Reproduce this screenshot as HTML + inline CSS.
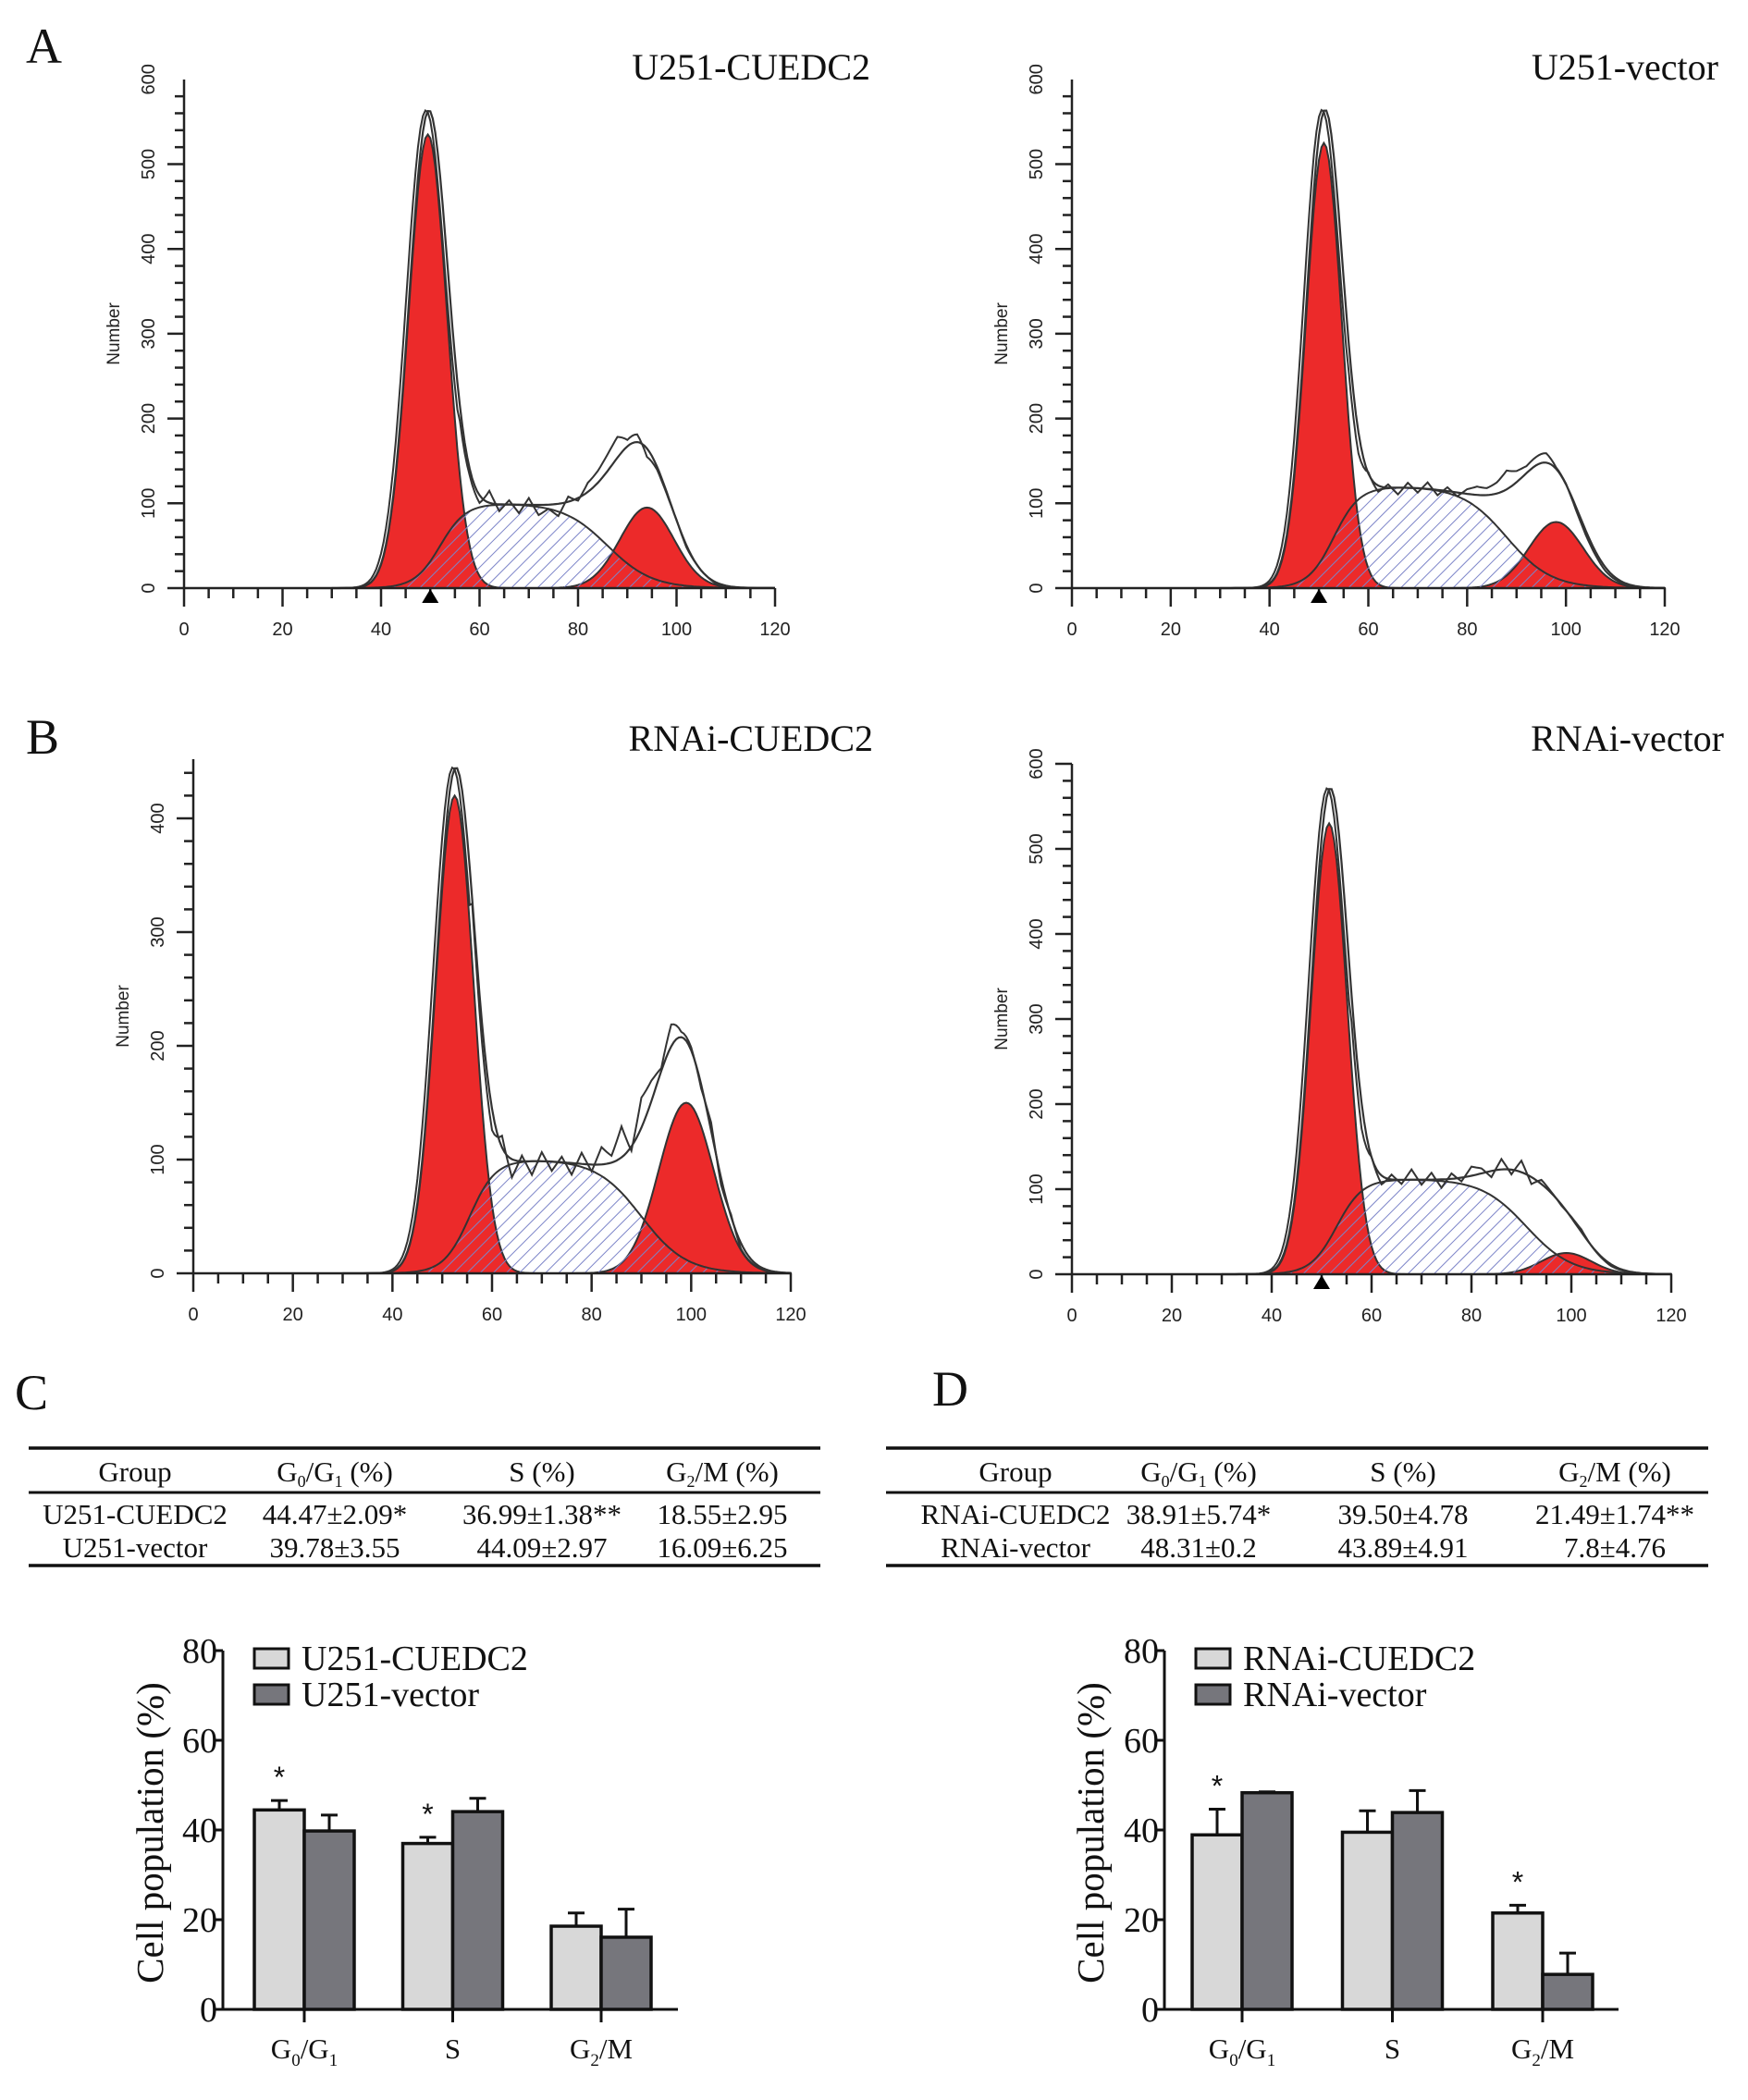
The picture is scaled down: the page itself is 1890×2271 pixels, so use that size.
<!DOCTYPE html>
<html>
<head>
<meta charset="utf-8">
<style>
html,body{margin:0;padding:0;background:#fff;}
svg{display:block;}
</style>
</head>
<body>
<svg id="fig" xmlns="http://www.w3.org/2000/svg" width="1890" height="2271" viewBox="0 0 1890 2271">
<defs>
<pattern id="hatch" patternUnits="userSpaceOnUse" width="10" height="10" patternTransform="rotate(45)">
<line x1="0" y1="0" x2="0" y2="10" stroke="#7c84c8" stroke-width="2"/>
</pattern>
</defs>
<g font-family="'Liberation Serif', serif" fill="#111">
<text x="28" y="68" font-size="54">A</text>
<text x="28" y="815" font-size="54">B</text>
<text x="16" y="1524" font-size="54">C</text>
<text x="1008" y="1520" font-size="54">D</text>
<text x="941" y="86" font-size="40" text-anchor="end">U251-CUEDC2</text>
<text x="1858" y="86" font-size="40" text-anchor="end">U251-vector</text>
<text x="944" y="812" font-size="40" text-anchor="end">RNAi-CUEDC2</text>
<text x="1864" y="812" font-size="40" text-anchor="end">RNAi-vector</text>
</g>
<g id="tables" font-family="'Liberation Serif', serif" font-size="31" fill="#111"></g>
<g id="hists"></g>
<g id="bars"></g>
</svg>
<script>
// ---------- Histogram data (per panel: A-left, A-right, B-left, B-right) ----------
const g1Mean   = [49.5, 51, 52.5, 51.5];
const g1Height = [535, 525, 420, 530];
const g1Sd     = [3.9, 3.6, 3.8, 3.6];
const sHeight  = [100, 120, 100, 112];
const sStart   = [52, 53, 55.5, 53];
const sEnd     = [86, 88, 90, 91];
const g2Mean   = [94, 98, 99, 99];
const g2Height = [95, 78, 150, 25];
const g2Sd     = [5.5, 5.5, 5.5, 5];
const aggMean  = [90, 94, 95, 92];
const aggHeight= [65, 60, 50, 55];
const rawNoiseA1 = [10,5,-5,15,-8,5,-10,8,-12,-5,-15,5,-5,8,10,15,20,5,10,-5,5,8,10,5,5,3,0,0,0];
const rawNoiseA2 = [5,-5,8,-6,4,-8,6,-5,8,-6,5,-4,6,10,8,12,20,10,5,8,12,6,8,5,3,2,0,0,0];
const rawNoiseB1 = [30,10,-5,15,-15,5,-12,8,-8,5,-10,10,-6,15,5,25,-8,20,10,-5,15,6,10,8,20,5,10,0,0];
const rawNoiseB2 = [12,-5,10,-8,6,-5,12,-6,8,-10,6,-5,10,5,-8,12,-5,15,-6,8,5,3,6,8,4,2,0,0,0];
const rawNoise = [rawNoiseA1, rawNoiseA2, rawNoiseB1, rawNoiseB2];
const markerShown = [true, true, false, true];
const yTickLabels = [[0,100,200,300,400,500,600],[0,100,200,300,400,500,600],[0,100,200,300,400],[0,100,200,300,400,500,600]];
const xTickLabels = [0,20,40,60,80,100,120];

// layout (not data)
const layout = [
 {x0:199,x1:838,y0:636,per100:91.7,top:86},
 {x0:1159,x1:1800,y0:636,per100:91.7,top:86},
 {x0:209,x1:855,y0:1377,per100:123,top:821},
 {x0:1159,x1:1807,y0:1378,per100:92,top:826}
];
const NS="http://www.w3.org/2000/svg";
function mk(tag, attrs, parent){const e=document.createElementNS(NS,tag);for(const k in attrs)e.setAttribute(k,attrs[k]);if(parent)parent.appendChild(e);return e;}
function gauss(x,m,h,s){return h*Math.exp(-(x-m)*(x-m)/(2*s*s));}
function plateau(x,h,a,b){return h/(1+Math.exp(-(x-a)/2.6))/(1+Math.exp((x-b)/4.5));}

const hists=document.getElementById('hists');
const panelNames=['histogram-u251-cuedc2','histogram-u251-vector','histogram-rnai-cuedc2','histogram-rnai-vector'];
for(let p=0;p<4;p++){
  const L=layout[p];
  const xs=v=>L.x0+v*(L.x1-L.x0)/120;
  const ys=v=>L.y0-v*L.per100/100;
  const g=mk('g',{},hists);
  
  
  const pts=[];
  for(let x=30;x<=120.001;x+=0.5)pts.push(x);
  const g1=x=>gauss(x,g1Mean[p],g1Height[p],g1Sd[p]);
  const g2=x=>gauss(x,g2Mean[p],g2Height[p],g2Sd[p]);
  const sp=x=>plateau(x,sHeight[p],sStart[p],sEnd[p]);
  const ag=x=>gauss(x,aggMean[p],aggHeight[p],7);
  const fit=x=>g1(x)+g2(x)+sp(x)+ag(x);
  const area=f=>{let d='M'+xs(30)+','+ys(0);pts.forEach(x=>{d+=' L'+xs(x).toFixed(1)+','+ys(f(x)).toFixed(1);});return d+' L'+xs(120)+','+ys(0)+'Z';};
  const line=f=>{let d='';pts.forEach((x,i)=>{d+=(i?' L':'M')+xs(x).toFixed(1)+','+ys(f(x)).toFixed(1);});return d;};
  const a1=mk('path',{d:area(g1),fill:'#ec2a2a',stroke:'#333','stroke-width':2},g);
  
  
  const a2=mk('path',{d:area(g2),fill:'#ec2a2a',stroke:'#333','stroke-width':2},g);
  
  
  const a3=mk('path',{d:area(sp),fill:'url(#hatch)',stroke:'#333','stroke-width':2},g);
  
  
  const f1=mk('path',{d:line(fit),fill:'none',stroke:'#333','stroke-width':2.2},g);
  
  
  const noise=rawNoise[p];
  const raw=x=>{let n=0;if(x>=56&&x<=112){const t=(x-56)/2;const i=Math.floor(t);const fr=t-i;n=noise[i]*(1-fr)+(noise[Math.min(i+1,noise.length-1)]*fr);}
    return Math.max(0,fit(x+0.6)+n);};
  const r1=mk('path',{d:line(raw),fill:'none',stroke:'#333','stroke-width':2},g);
  
  
  // axes
  const ax=mk('g',{stroke:'#222','stroke-width':2.5,fill:'none'},g);
  
  
  mk('line',{x1:L.x0,y1:L.y0,x2:L.x0,y2:L.top},ax);
  mk('line',{x1:L.x0,y1:L.y0,x2:L.x1,y2:L.y0},ax);
  const ymaxv=(L.y0-L.top)/L.per100*100;
  for(let v=0;v<=ymaxv+0.1;v+=20){const maj=v%100===0;mk('line',{x1:L.x0-(maj?18:10),y1:ys(v),x2:L.x0,y2:ys(v)},ax);}
  for(let v=0;v<=120;v+=5){const maj=v%20===0;mk('line',{x1:xs(v),y1:L.y0,x2:xs(v),y2:L.y0+(maj?20:11)},ax);}
  yTickLabels[p].forEach(v=>{const t=mk('text',{x:0,y:0,'font-family':"'Liberation Sans',sans-serif",'font-size':20,'text-anchor':'middle',transform:`translate(${L.x0-32},${ys(v)}) rotate(-90)`,fill:'#222'},g);t.textContent=v;
    
    });
  xTickLabels.forEach(v=>{const t=mk('text',{x:xs(v),y:L.y0+51,'font-family':"'Liberation Sans',sans-serif",'font-size':20,'text-anchor':'middle',fill:'#222'},g);t.textContent=v;
    
    });
  const yt=mk('text',{'font-family':"'Liberation Sans',sans-serif",'font-size':19,'text-anchor':'middle',transform:`translate(${L.x0-70},${(L.y0+L.top)/2}) rotate(-90)`,fill:'#222'},g);
  yt.textContent='Number';
  
  
  if(markerShown[p]){const m=mk('path',{d:`M${xs(50)-9},${L.y0+16} L${xs(50)+9},${L.y0+16} L${xs(50)},${L.y0+1}Z`,fill:'#000'},g);
    
    }
}

// ---------- Tables ----------
const tables=document.getElementById('tables');
const tblC=[['U251-CUEDC2','44.47±2.09*','36.99±1.38**','18.55±2.95'],['U251-vector','39.78±3.55','44.09±2.97','16.09±6.25']];
const tblD=[['RNAi-CUEDC2','38.91±5.74*','39.50±4.78','21.49±1.74**'],['RNAi-vector','48.31±0.2','43.89±4.91','7.8±4.76']];
function drawTable(x0,x1,cols,rows,name){
  const g=mk('g',{},tables);
  
  
  mk('line',{x1:x0,x2:x1,y1:1566,y2:1566,stroke:'#111','stroke-width':3.5},g);
  mk('line',{x1:x0,x2:x1,y1:1614,y2:1614,stroke:'#111','stroke-width':3},g);
  mk('line',{x1:x0,x2:x1,y1:1693,y2:1693,stroke:'#111','stroke-width':3.5},g);
  const h=mk('text',{x:cols[0],y:1602,'text-anchor':'middle'},g);h.textContent='Group';
  
  
  const h1=mk('text',{x:cols[1],y:1602,'text-anchor':'middle'},g);
  h1.innerHTML='G<tspan font-size="18" dy="6">0</tspan><tspan dy="-6">/G</tspan><tspan font-size="18" dy="6">1</tspan><tspan dy="-6"> (%)</tspan>';
  
  
  const h2=mk('text',{x:cols[2],y:1602,'text-anchor':'middle'},g);h2.textContent='S (%)';
  
  
  const h3=mk('text',{x:cols[3],y:1602,'text-anchor':'middle'},g);
  h3.innerHTML='G<tspan font-size="18" dy="6">2</tspan><tspan dy="-6">/M (%)</tspan>';
  
  
  rows.forEach((r,ri)=>{r.forEach((c,ci)=>{const t=mk('text',{x:cols[ci],y:ri?1684:1648,'text-anchor':'middle'},g);t.textContent=c;
    
    });});
}
drawTable(31,887,[146,362,586,781],tblC,'table-c');
drawTable(958,1847,[1098,1296,1517,1746],tblD,'table-d');

// ---------- Bar charts ----------
const categories=['G0/G1','S','G2/M'];
const cTreat=[44.47,36.99,18.55], cTreatErr=[2.09,1.38,2.95];
const cVec=[39.78,44.09,16.09], cVecErr=[3.55,2.97,6.25];
const dTreat=[38.91,39.50,21.49], dTreatErr=[5.74,4.78,1.74];
const dVec=[48.31,43.89,7.8], dVecErr=[0.2,4.91,4.76];
const cStars=[true,true,false], dStars=[true,false,true];
const barTicks=[0,20,40,60,80];
const bars=document.getElementById('bars');
function drawBars(ax0,axEnd,cx0,step,tv,te,vv,ve,stars,legend,name,titleX){
  const g=mk('g',{'font-family':"'Liberation Serif',serif",fill:'#111'},bars);
  
  
  const y0=2173,y80=1785;
  const ys=v=>y0-v*(y0-y80)/80;
  const bw=54;
  const catX=i=>cx0+i*step;
  categories.forEach((c,i)=>{
    [[tv,te,'#d8d8d8',-1],[vv,ve,'#76767c',0]].forEach(([vals,errs,col,off])=>{
      const x=catX(i)+off*bw;
      mk('line',{x1:x+bw/2,x2:x+bw/2,y1:ys(vals[i]),y2:ys(vals[i]+errs[i]),stroke:'#111','stroke-width':3},g);
      mk('line',{x1:x+bw/2-9,x2:x+bw/2+9,y1:ys(vals[i]+errs[i]),y2:ys(vals[i]+errs[i]),stroke:'#111','stroke-width':3},g);
      const r=mk('rect',{x:x,y:ys(vals[i]),width:bw,height:y0-ys(vals[i]),fill:col,stroke:'#111','stroke-width':3.5},g);
      
      
    });
    if(stars[i]){const s=mk('text',{x:catX(i)-bw/2,y:ys(tv[i]+te[i])-14,'text-anchor':'middle','font-size':32,'font-family':"'Liberation Sans',sans-serif"},g);s.textContent='*';
      
      }
    mk('line',{x1:catX(i),x2:catX(i),y1:y0,y2:y0+14,stroke:'#111','stroke-width':3},g);
    const t=mk('text',{x:catX(i),y:2226,'text-anchor':'middle','font-size':31},g);
    if(i===0)t.innerHTML='G<tspan font-size="19" dy="8">0</tspan><tspan dy="-8">/G</tspan><tspan font-size="19" dy="8">1</tspan>';
    else if(i===1)t.textContent='S';
    else t.innerHTML='G<tspan font-size="19" dy="8">2</tspan><tspan dy="-8">/M</tspan>';
    
    
  });
  mk('line',{x1:ax0,x2:ax0,y1:y0,y2:y80,stroke:'#111','stroke-width':3},g);
  mk('line',{x1:ax0,x2:axEnd,y1:y0,y2:y0,stroke:'#111','stroke-width':3},g);
  barTicks.forEach(v=>{mk('line',{x1:ax0-9,x2:ax0,y1:ys(v),y2:ys(v),stroke:'#111','stroke-width':3},g);
    const t=mk('text',{x:ax0-6,y:ys(v)+13,'text-anchor':'end','font-size':38},g);t.textContent=v;
    
    });
  const yt=mk('text',{'text-anchor':'middle','font-size':41,transform:`translate(${titleX},1982) rotate(-90)`},g);
  yt.textContent='Cell population (%)';
  
  
  legend.forEach((lab,i)=>{
    const ly=1783+i*39;
    const b=mk('rect',{x:ax0+34,y:ly,width:37,height:21,fill:i?'#76767c':'#d8d8d8',stroke:'#111','stroke-width':3},g);
    
    
    const t=mk('text',{x:ax0+85,y:ly+23,'font-size':38},g);t.textContent=lab;
    
    
  });
}
drawBars(241,733,329,160.5,cTreat,cTreatErr,cVec,cVecErr,cStars,['U251-CUEDC2','U251-vector'],'bar-chart-c',176);
drawBars(1259,1750,1343,162.5,dTreat,dTreatErr,dVec,dVecErr,dStars,['RNAi-CUEDC2','RNAi-vector'],'bar-chart-d',1193);
</script>
</body>
</html>
